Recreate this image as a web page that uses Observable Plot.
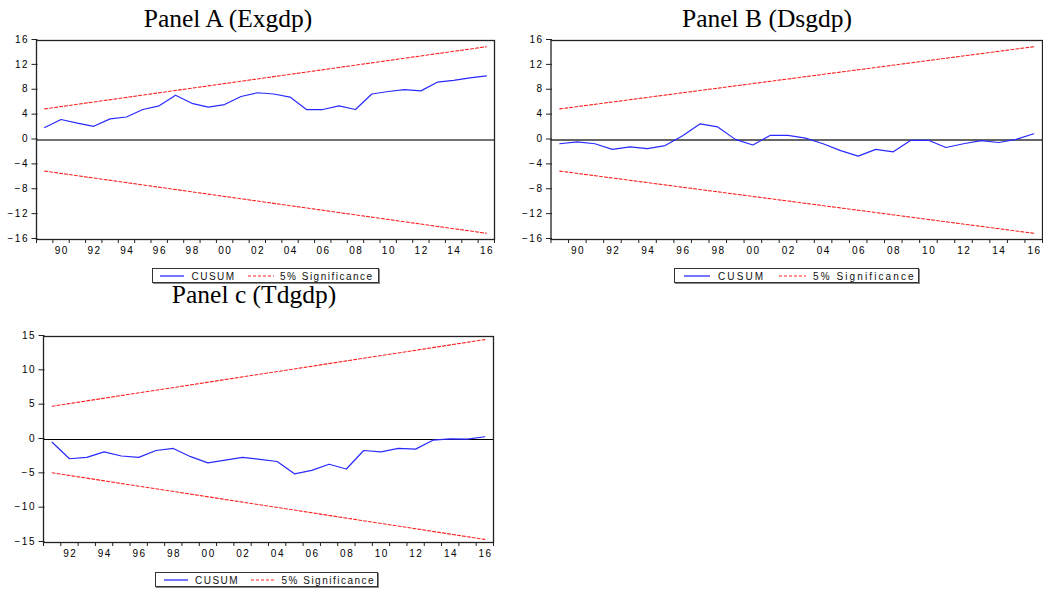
<!DOCTYPE html>
<html>
<head>
<meta charset="utf-8">
<script src="https://cdn.jsdelivr.net/npm/d3@7"></script>
<script src="https://cdn.jsdelivr.net/npm/@observablehq/plot@0.6"></script>
<style>
  html, body { margin: 0; padding: 0; background: #fff; }
  #root { position: relative; width: 1043px; height: 589px; overflow: hidden; background: #fff; }
  .panel { position: absolute; }
  .panel svg text { letter-spacing: 1.5px; }
  .title { position: absolute; width: 300px; text-align: center; font-family: "Liberation Serif", "Times New Roman", serif; font-size: 25.5px; line-height: 25px; color: #000; white-space: nowrap; }
  .legend { position: absolute; border: 1.5px solid #333; box-shadow: 1px 1px 0 #888; background: #fff; font-family: "Liberation Sans", Arial, sans-serif; font-size: 10px; color: #111; letter-spacing: 1.5px; }
  .legend .item { position: absolute; top: 1px; line-height: 13px; white-space: nowrap; }
  .legend svg { position: absolute; top: 0; }
</style>
</head>
<body>
<div id="root"></div>
<script>
// ---------- data ----------
const yearsAB = d3.range(1989, 2017);
const yearsC = d3.range(1991, 2017);

const cusumA = [2.0, 3.3, 2.7, 2.2, 3.4, 3.7, 4.9, 5.5, 7.2, 5.9, 5.3, 5.7, 7.0, 7.6,
                7.4, 6.9, 4.9, 4.9, 5.5, 4.9, 7.4, 7.8, 8.1, 7.9, 9.3, 9.6, 10.0, 10.3];
const cusumB = [-0.6, -0.3, -0.6, -1.5, -1.1, -1.4, -0.9, 0.7, 2.6, 2.1, 0.1, -0.8, 0.75, 0.75,
                0.3, -0.6, -1.7, -2.6, -1.5, -1.9, -0.05, -0.05, -1.2, -0.6, -0.1, -0.4, 0.1, 1.0];
const cusumC = [-0.4, -2.8, -2.6, -1.8, -2.4, -2.6, -1.6, -1.3, -2.5, -3.4, -3.0, -2.6, -2.9,
                -3.2, -5.0, -4.5, -3.6, -4.3, -1.6, -1.8, -1.3, -1.4, -0.1, 0.1, 0.05, 0.4];

// 5% significance bounds (straight lines: first and last year)
const boundYearsAB = [1989, 2016];
const upperAB = [5.0, 15.0];
const lowerAB = [-5.0, -15.0];
const boundYearsC = [1991, 2016];
const upperC = [4.85, 14.55];
const lowerC = [-4.85, -14.55];

const yTicksAB = [16, 12, 8, 4, 0, -4, -8, -12, -16];
const yTicksC = [15, 10, 5, 0, -5, -10, -15];
const labelYearsAB = [1990, 1992, 1994, 1996, 1998, 2000, 2002, 2004, 2006, 2008, 2010, 2012, 2014, 2016];
const labelYearsC = [1992, 1994, 1996, 1998, 2000, 2002, 2004, 2006, 2008, 2010, 2012, 2014, 2016];

const titles = ["Panel A (Exgdp)", "Panel B (Dsgdp)", "Panel c (Tdgdp)"];
const legendLabels = ["CUSUM", "5% Significance"];

const BLUE = "#2a2aff";
const RED = "#ff2020";

// ---------- drawing ----------
const root = document.getElementById("root");
const yy = d => String(d % 100).padStart(2, "0");

function panel(o) {
  const cus = o.years.map((y, i) => ({year: y, v: o.cusum[i]}));
  const up = o.bYears.map((y, i) => ({year: y, v: o.upper[i]}));
  const lo = o.bYears.map((y, i) => ({year: y, v: o.lower[i]}));
  const bounds = o.years.map(y => y - 0.5).concat([o.years[o.years.length - 1] + 0.5]);
  const ls = 1.5;
  const svg = Plot.plot({
    width: o.width, height: o.height,
    marginLeft: o.mL, marginRight: o.mR, marginTop: o.mT, marginBottom: o.mB,
    x: {domain: [o.years[0] - 0.5, o.years[o.years.length - 1] + 0.5]},
    y: {domain: o.yDomain},
    style: {fontFamily: "'Liberation Sans', Arial, sans-serif", fontSize: "10px", color: "#000", background: "transparent", overflow: "visible"},
    marks: [
      Plot.ruleY([0], {stroke: o.zeroStroke, strokeWidth: o.zeroWidth}),
      Plot.line(up, {x: "year", y: "v", stroke: RED, strokeWidth: 1.1, strokeDasharray: "3,2"}),
      Plot.line(lo, {x: "year", y: "v", stroke: RED, strokeWidth: 1.1, strokeDasharray: "3,2"}),
      Plot.line(cus, {x: "year", y: "v", stroke: BLUE, strokeWidth: 1.2}),
      Plot.frame({stroke: "#222", strokeWidth: 1.3}),
      Plot.axisY(o.yTicks, {tickSize: 6, tickPadding: 3, label: null, dy: -1, dx: ls, fill: "#000", stroke: "#222"}),
      Plot.axisX(bounds, {tickSize: 4, tickFormat: () => "", label: null, stroke: "#222"}),
      Plot.axisX(o.labelYears, {tickSize: 0, tickPadding: 7, tickFormat: yy, label: null, dx: ls / 2, fill: "#000"})
    ]
  });
  const wrap = document.createElement("div");
  wrap.className = "panel";
  wrap.style.left = o.left + "px";
  wrap.style.top = o.top + "px";
  wrap.appendChild(svg);
  root.appendChild(wrap);
}

function title(text, cx, top) {
  const d = document.createElement("div");
  d.className = "title";
  d.textContent = text;
  d.style.left = (cx - 150) + "px";
  d.style.top = top + "px";
  root.appendChild(d);
}

function legend(o) {
  const d = document.createElement("div");
  d.className = "legend";
  d.style.left = o.left + "px";
  d.style.top = o.top + "px";
  d.style.width = o.w + "px";
  d.style.height = "13px";
  d.style.letterSpacing = o.ls + "px";
  d.innerHTML =
    `<svg width="${o.s1[1] - o.s1[0]}" height="13" style="left:${o.s1[0]}px"><line x1="0" x2="${o.s1[1] - o.s1[0]}" y1="7" y2="7" stroke="${BLUE}" stroke-width="1.3"/></svg>` +
    `<div class="item" style="left:${o.t1}px">${legendLabels[0]}</div>` +
    `<svg width="${o.s2[1] - o.s2[0]}" height="13" style="left:${o.s2[0]}px"><line x1="0" x2="${o.s2[1] - o.s2[0]}" y1="7" y2="7" stroke="${RED}" stroke-width="1" stroke-dasharray="3,2"/></svg>` +
    `<div class="item" style="left:${o.t2}px">${legendLabels[1]}</div>`;
  root.appendChild(d);
}

// Panel A
panel({left: 0, top: 30, width: 504, height: 234, mL: 36, mR: 10, mT: 10, mB: 25,
  years: yearsAB, cusum: cusumA, bYears: boundYearsAB, upper: upperAB, lower: lowerAB,
  yDomain: [-16, 16], yTicks: yTicksAB, labelYears: labelYearsAB, zeroStroke: "#444", zeroWidth: 1.5});
// Panel B
panel({left: 500, top: 30, width: 543, height: 234, mL: 50.5, mR: 1, mT: 10, mB: 25,
  years: yearsAB, cusum: cusumB, bYears: boundYearsAB, upper: upperAB, lower: lowerAB,
  yDomain: [-16, 16], yTicks: yTicksAB, labelYears: labelYearsAB, zeroStroke: "#666", zeroWidth: 1.8});
// Panel C
panel({left: 0, top: 326, width: 503, height: 241, mL: 43, mR: 10, mT: 10, mB: 25,
  years: yearsC, cusum: cusumC, bYears: boundYearsC, upper: upperC, lower: lowerC,
  yDomain: [-15, 15], yTicks: yTicksC, labelYears: labelYearsC, zeroStroke: "#000", zeroWidth: 1});

title(titles[0], 228, 6);
title(titles[1], 767, 6);
title(titles[2], 254, 281.5);

legend({left: 151.5, top: 267.5, w: 225, ls: 1.5, s1: [7, 31], t1: 39, s2: [95, 121], t2: 127.5});
legend({left: 674, top: 268, w: 243, ls: 2.1, s1: [8.5, 35], t1: 43, s2: [104, 131], t2: 138});
legend({left: 155, top: 572, w: 221, ls: 1.5, s1: [8, 32], t1: 39, s2: [94.5, 120], t2: 125.5});
</script>
</body>
</html>
